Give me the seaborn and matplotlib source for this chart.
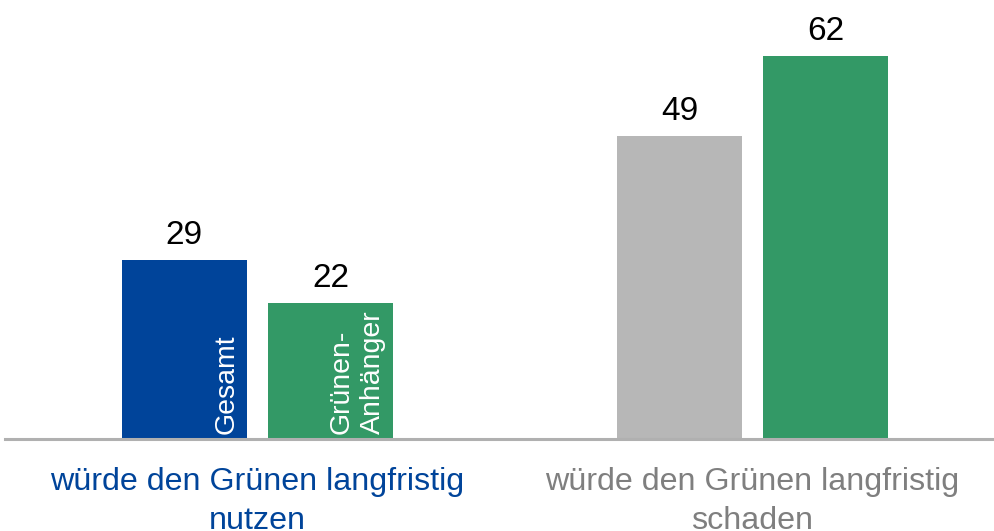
import pandas as pd
import matplotlib.pyplot as plt
import seaborn as sns

# Chart data
categories = ["würde den Grünen langfristig\nnutzen", "würde den Grünen langfristig\nschaden"]
groups = ["Gesamt", "Grünen-\nAnhänger"]
gesamt = [29, 49]
gruene = [22, 62]

# colours per bar (Gesamt nutzen, Gesamt schaden, Grüne nutzen, Grüne schaden)
blue = "#00449a"
green = "#339966"
grey = "#b7b7b7"
bar_colors = [blue, grey, green, green]
label_colors = [blue, "#7f7f7f"]

df = pd.DataFrame({
    "category": categories * 2,
    "group": [groups[0]] * 2 + [groups[1]] * 2,
    "value": gesamt + gruene,
})

sns.set_style("white")
plt.rcParams["font.family"] = ["Liberation Sans", "DejaVu Sans"]

fig = plt.figure(figsize=(9.95, 5.31), dpi=100)
ax = fig.add_axes([0.005, 1 - 439 / 531, 0.995, 439 / 531])

sns.barplot(data=df, x="category", y="value", hue="group", hue_order=groups,
            width=0.59, gap=0.144, legend=False, ax=ax, saturation=1)

for patch, c in zip(ax.patches, bar_colors):
    patch.set_facecolor(c)
    patch.set_edgecolor("none")

for cont in ax.containers:
    ax.bar_label(cont, fontsize=24, padding=6.5, color="black")

# group names written inside the left pair of bars
for cont, name in zip(ax.containers, groups):
    p = cont.patches[0]
    ax.annotate(name, xy=(p.get_x() + p.get_width(), 0), xytext=(-7, 5),
                textcoords="offset pixels", rotation=90, ha="right", va="bottom",
                multialignment="left", color="white", fontsize=20.5, linespacing=1.25)

ax.set_xlim(-0.51, 1.49)
ax.set_ylim(0, 71)
ax.set_xlabel("")
ax.set_ylabel("")
ax.set_yticks([])
ax.tick_params(axis="x", length=0, pad=20, labelsize=23.2)
for lbl, c in zip(ax.get_xticklabels(), label_colors):
    lbl.set_color(c)
    lbl.set_linespacing(1.4)

sns.despine(ax=ax, left=True)
ax.spines["bottom"].set_color("#b0b0b0")
ax.spines["bottom"].set_linewidth(2.2)

fig.savefig("out.png", dpi=100)
